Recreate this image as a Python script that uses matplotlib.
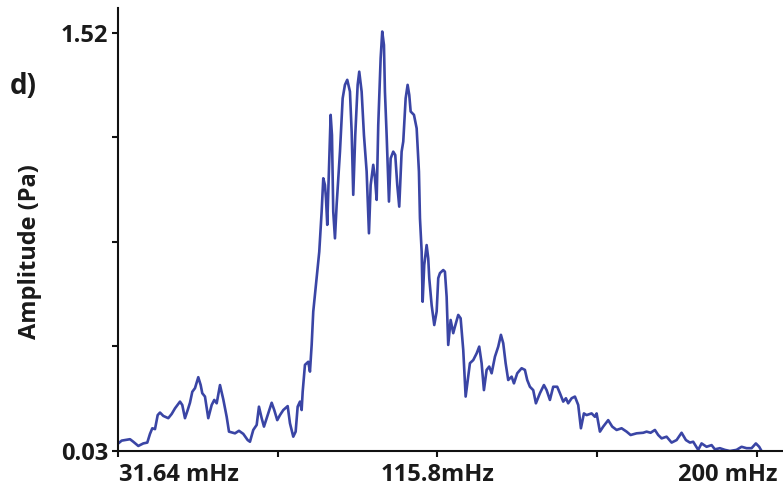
import matplotlib.pyplot as plt
from matplotlib.transforms import ScaledTranslation

# spectrum trace (frequency in mHz, amplitude in Pa)
freq_mhz = [
    31.72, 32.61, 34.80, 35.67, 36.99, 38.31, 39.36, 40.07, 40.68, 41.39,
    42.10, 42.71, 43.58, 44.89, 45.79, 46.66, 47.98, 48.58, 49.29, 50.01,
    50.61, 51.22, 51.93, 52.80, 53.43, 53.85, 54.56, 55.43, 56.33, 57.01,
    57.65, 58.52, 59.39, 60.28, 60.89, 62.47, 63.52, 64.66, 65.81, 66.42,
    67.29, 68.19, 68.79, 69.50, 70.11, 71.24, 72.14, 72.82, 73.61, 74.33,
    75.20, 76.36, 76.96, 77.83, 78.46, 78.99, 79.60, 80.04, 80.31, 80.91,
    81.78, 82.23, 82.68, 83.10, 83.81, 84.68, 85.31, 85.74, 86.18, 86.45,
    86.79, 87.32, 87.68, 88.03, 88.37, 88.82, 89.26, 90.14, 90.85, 91.45,
    92.06, 92.77, 93.22, 93.64, 94.17, 94.80, 95.22, 95.85, 96.46, 97.17,
    97.78, 98.23, 98.91, 99.36, 99.81, 100.23, 100.86, 101.28, 101.73, 101.99,
    102.44, 103.05, 103.50, 104.18, 104.71, 105.24, 105.76, 106.39, 106.82, 107.45,
    107.97, 108.40, 108.77, 109.64, 110.35, 110.95, 111.22, 111.67, 111.93, 112.35,
    112.98, 113.40, 113.67, 114.30, 114.99, 115.62, 116.04, 116.49, 117.36, 117.80,
    118.25, 118.67, 119.31, 119.99, 120.44, 121.31, 121.94, 122.63, 123.26, 123.94,
    124.39, 125.26, 126.16, 126.84, 127.47, 128.08, 128.79, 129.47, 130.11, 130.98,
    131.85, 132.56, 133.17, 133.80, 134.48, 135.38, 135.99, 136.86, 138.01, 138.88,
    139.49, 140.20, 141.07, 141.78, 142.84, 143.89, 144.60, 145.47, 146.34, 147.39,
    148.11, 148.98, 149.69, 150.29, 151.19, 152.06, 152.93, 153.64, 154.43, 155.14,
    156.46, 157.33, 157.78, 158.65, 159.52, 160.83, 161.89, 163.05, 164.36, 165.68,
    166.74, 168.32, 170.06, 170.95, 172.01, 173.14, 174.01, 174.91, 176.22, 177.54,
    178.86, 180.17, 181.31, 182.36, 183.23, 184.55, 185.44, 186.76, 188.08, 188.95,
    190.27, 191.58, 192.90, 194.66, 195.98, 197.30, 198.62, 199.75, 200.62, 201.25,
]
amp_pa = [
    0.057, 0.067, 0.072, 0.063, 0.048, 0.057, 0.060, 0.091, 0.111, 0.108,
    0.158, 0.167, 0.155, 0.147, 0.162, 0.182, 0.206, 0.194, 0.147, 0.176,
    0.202, 0.241, 0.254, 0.293, 0.265, 0.236, 0.224, 0.147, 0.194, 0.212,
    0.200, 0.265, 0.214, 0.152, 0.099, 0.093, 0.102, 0.091, 0.069, 0.063,
    0.105, 0.123, 0.188, 0.147, 0.117, 0.164, 0.202, 0.176, 0.140, 0.158,
    0.176, 0.190, 0.129, 0.081, 0.099, 0.188, 0.206, 0.176, 0.241, 0.337,
    0.348, 0.313, 0.408, 0.527, 0.622, 0.740, 0.883, 1.002, 0.978, 0.931,
    0.836, 1.073, 1.228, 1.156, 0.883, 0.788, 0.907, 1.097, 1.287, 1.335,
    1.353, 1.311, 1.168, 0.943, 1.156, 1.335, 1.382, 1.311, 1.156, 1.026,
    0.806, 0.978, 1.050, 1.003, 0.925, 1.192, 1.430, 1.525, 1.477, 1.311,
    1.156, 0.919, 1.073, 1.097, 1.085, 0.978, 0.901, 1.097, 1.133, 1.287,
    1.335, 1.299, 1.240, 1.228, 1.180, 1.026, 0.860, 0.740, 0.562, 0.693,
    0.764, 0.717, 0.646, 0.550, 0.479, 0.527, 0.646, 0.664, 0.675, 0.669,
    0.580, 0.408, 0.497, 0.450, 0.473, 0.515, 0.503, 0.390, 0.224, 0.295,
    0.343, 0.354, 0.378, 0.402, 0.343, 0.247, 0.319, 0.331, 0.307, 0.366,
    0.402, 0.444, 0.414, 0.343, 0.283, 0.295, 0.271, 0.307, 0.325, 0.319,
    0.283, 0.259, 0.247, 0.200, 0.236, 0.265, 0.247, 0.212, 0.259, 0.259,
    0.236, 0.206, 0.218, 0.200, 0.218, 0.224, 0.194, 0.111, 0.164, 0.158,
    0.164, 0.152, 0.164, 0.099, 0.117, 0.140, 0.117, 0.105, 0.111, 0.099,
    0.087, 0.093, 0.095, 0.099, 0.095, 0.105, 0.087, 0.075, 0.081, 0.060,
    0.069, 0.095, 0.069, 0.060, 0.063, 0.034, 0.057, 0.045, 0.051, 0.036,
    0.040, 0.034, 0.030, 0.034, 0.045, 0.040, 0.040, 0.057, 0.045, 0.030,
]

x_ticks = [31.64, 73.73, 115.82, 157.91, 200.0]
x_tick_labels = ['31.64 mHz', '', '115.8mHz', '', '200 mHz']
y_ticks = [0.03, 0.4025, 0.775, 1.1475, 1.52]
y_tick_labels = ['0.03', '', '', '', '1.52']

plt.rcParams['font.family'] = ['Open Sans', 'DejaVu Sans']
plt.rcParams['font.weight'] = 'bold'

fig = plt.figure(figsize=(7.83, 4.93), dpi=100)
ax = fig.add_axes([0.1507, 0.0852, 0.8493, 0.8986])

ax.plot(freq_mhz, amp_pa, color='#3a45a5', linewidth=1.9)

ax.set_xlim(31.64, 206.9)
ax.set_ylim(0.03, 1.609)

for s in ['top', 'right']:
    ax.spines[s].set_visible(False)
for s in ['left', 'bottom']:
    ax.spines[s].set_linewidth(1.5)
    ax.spines[s].set_color('#111111')

ax.set_xticks(x_ticks)
ax.set_xticklabels(x_tick_labels, fontsize=17, fontweight='bold', color='#1a1a1a')
ax.set_yticks(y_ticks)
ax.set_yticklabels(y_tick_labels, fontsize=17, fontweight='bold', color='#1a1a1a')
ax.tick_params(axis='both', direction='out', length=4, width=1.5, color='#111111')
ax.tick_params(axis='x', pad=4.5)
ax.tick_params(axis='y', pad=3)

# shift the end labels like in the original figure
xlabels = ax.get_xticklabels()
xlabels[0].set_ha('left')
xlabels[0].set_transform(xlabels[0].get_transform() + ScaledTranslation(0.01, 0, fig.dpi_scale_trans))
xlabels[4].set_ha('right')
xlabels[4].set_transform(xlabels[4].get_transform() + ScaledTranslation(0.21, 0, fig.dpi_scale_trans))

ax.set_ylabel('Amplitude (Pa)', fontsize=17, fontweight='bold', color='#1a1a1a')
ax.yaxis.set_label_coords(-0.114, 0.45)

fig.text(0.012, 0.81, 'd)', fontsize=20, fontweight='bold', color='#1a1a1a')

fig.savefig('out.png', dpi=100)
